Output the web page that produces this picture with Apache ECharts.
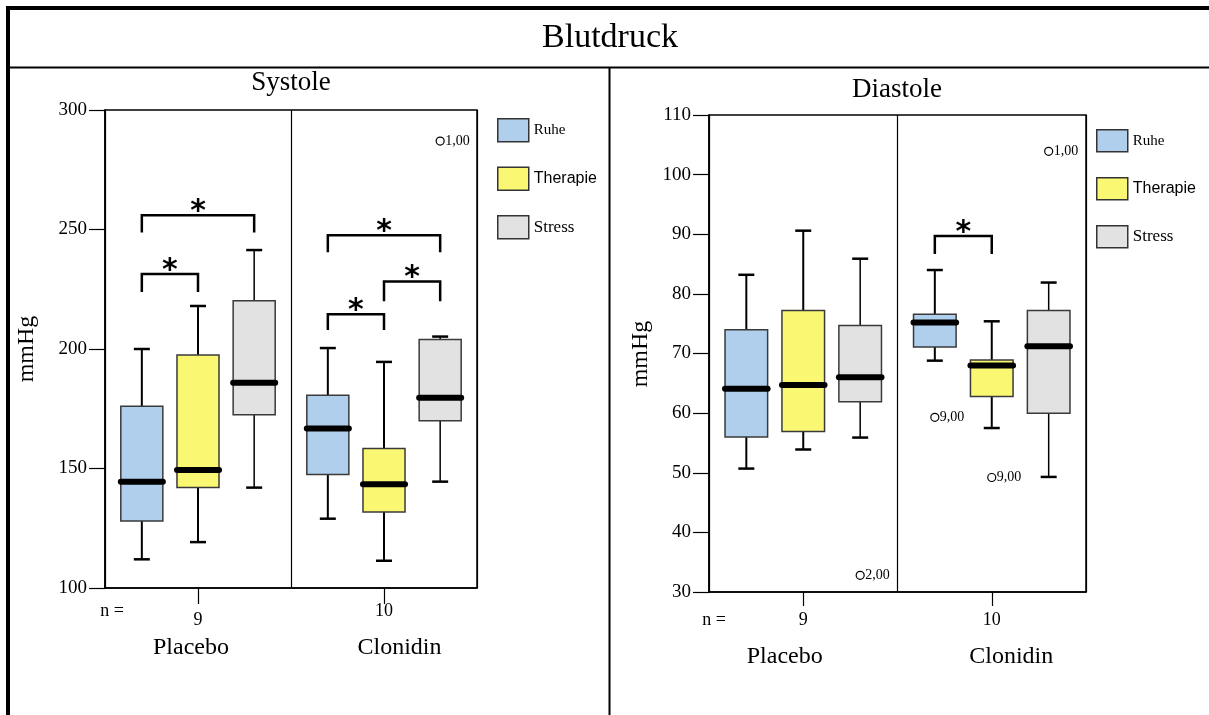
<!DOCTYPE html>
<html>
<head>
<meta charset="utf-8">
<title>Blutdruck</title>
<script src="https://cdn.jsdelivr.net/npm/echarts@6/dist/echarts.min.js"></script>
<style>
  html, body { margin: 0; padding: 0; background: #ffffff; }
  #chart { width: 1209px; height: 715px; }
</style>
</head>
<body>
<div id="chart"></div>
<script>
// ---- data ---------------------------------------------------------------
const groups = ['Placebo', 'Clonidin'];
const groupN = ['9', '10'];
const conditions = ['Ruhe', 'Therapie', 'Stress'];

// axis ranges: [min, max, interval]
const systoleRange = [100, 300, 50];
const diastoleRange = [30, 110, 10];

// box summaries per group: [lower whisker, Q1, median, Q3, upper whisker]
const systoleRuhe     = [[112, 128, 144.5, 176, 200],   [129, 147.5, 166.7, 180.6, 200.4]];
const systoleTherapie = [[119.2, 142, 149.4, 197.5, 218], [111.4, 131.8, 143.4, 158.4, 194.6]];
const systoleStress   = [[142, 172.5, 185.9, 220.2, 241.4], [144.5, 170, 179.6, 204, 205.2]];

const diastoleRuhe     = [[50.7, 56, 64.1, 74, 83.2],   [68.8, 71.1, 75.2, 76.6, 84]];
const diastoleTherapie = [[53.9, 56.9, 64.7, 77.2, 90.6], [57.5, 62.8, 68, 68.9, 75.4]];
const diastoleStress   = [[55.9, 61.9, 66, 74.7, 85.9], [49.3, 60, 71.2, 77.2, 81.9]];

// outliers: [group, condition, value, case label]
const systoleOutliers = [[1, 2, 287, '1,00']];
const diastoleOutliers = [
  [0, 2, 32.8, '2,00'],
  [1, 0, 59.3, '9,00'],
  [1, 1, 49.2, '9,00'],
  [1, 2, 103.9, '1,00']
];

// significance brackets: [group, from condition, to condition, bar value, leg end value]
const systoleBrackets = [
  [0, 0, 1, 231.4, 223.8],
  [0, 0, 2, 256, 248.7],
  [1, 0, 1, 214.5, 208],
  [1, 1, 2, 228.2, 220],
  [1, 0, 2, 247.6, 240.5]
];
const diastoleBrackets = [
  [1, 0, 1, 89.7, 86.7]
];

// ---- styling ------------------------------------------------------------
const boxFill = ['#AFCFED', '#FAF873', '#E2E2E2'];
const SERIF = '"Liberation Serif", "Times New Roman", serif';
const SANS = '"Liberation Sans", Arial, sans-serif';
const BOX_STEP = 0.302;   // distance between neighbouring boxes, as share of band
const BOX_WIDTH = 0.226;  // box width, as share of band

function boxX(api, g, cond) {
  const band = api.size([1, 0])[0];
  return api.coord([g, 0])[0] + (cond - 1) * band * BOX_STEP;
}

function boxRenderer(cond) {
  return function (params, api) {
    const g = api.value(0);
    const band = api.size([1, 0])[0];
    const cx = boxX(api, g, cond);
    const w = band * BOX_WIDTH;
    const y = [1, 2, 3, 4, 5].map(function (d) { return api.coord([g, api.value(d)])[1]; });
    const whiskerW = cond === 2 ? 1.5 : 2;
    const capHalf = 8;
    return {
      type: 'group',
      children: [
        { type: 'line', shape: { x1: cx, y1: y[3], x2: cx, y2: y[4] }, style: { stroke: '#000', lineWidth: whiskerW } },
        { type: 'line', shape: { x1: cx, y1: y[1], x2: cx, y2: y[0] }, style: { stroke: '#000', lineWidth: whiskerW } },
        { type: 'line', shape: { x1: cx - capHalf, y1: y[4], x2: cx + capHalf, y2: y[4] }, style: { stroke: '#000', lineWidth: 2.5 } },
        { type: 'line', shape: { x1: cx - capHalf, y1: y[0], x2: cx + capHalf, y2: y[0] }, style: { stroke: '#000', lineWidth: 2.5 } },
        { type: 'rect', shape: { x: cx - w / 2, y: y[3], width: w, height: y[1] - y[3] },
          style: { fill: boxFill[cond], stroke: '#3a3a3a', lineWidth: 1.5 } },
        { type: 'line', shape: { x1: cx - w / 2, y1: y[2], x2: cx + w / 2, y2: y[2] },
          style: { stroke: '#000', lineWidth: 6, lineCap: 'round' } }
      ]
    };
  };
}

function outlierRenderer(params, api) {
  const g = api.value(0);
  const cx = boxX(api, g, api.value(1));
  const cy = api.coord([g, api.value(2)])[1];
  return {
    type: 'group',
    children: [
      { type: 'circle', shape: { cx: cx, cy: cy, r: 4 }, style: { fill: 'none', stroke: '#000', lineWidth: 1.2 } },
      { type: 'text', x: cx + 5, y: cy,
        style: { text: api.value(3), fill: '#000', font: '14px ' + SERIF, align: 'left', verticalAlign: 'middle' } }
    ]
  };
}

function bracketRenderer(params, api) {
  const g = api.value(0);
  const x1 = boxX(api, g, api.value(1));
  const x2 = boxX(api, g, api.value(2));
  const yTop = api.coord([g, api.value(3)])[1];
  const yLeg = api.coord([g, api.value(4)])[1];
  return {
    type: 'group',
    children: [
      { type: 'polyline', shape: { points: [[x1, yLeg], [x1, yTop], [x2, yTop], [x2, yLeg]] },
        style: { fill: 'none', stroke: '#000', lineWidth: 2.5 } },
      { type: 'text', x: (x1 + x2) / 2, y: yTop + 12,
        style: { text: '*', fill: '#000', font: 'bold 30px "DejaVu Sans", sans-serif', align: 'center', verticalAlign: 'bottom' } }
    ]
  };
}

function boxSeries(name, cond, gridIdx, rows) {
  return {
    type: 'custom', name: name,
    xAxisIndex: gridIdx, yAxisIndex: gridIdx,
    itemStyle: { color: boxFill[cond] },
    renderItem: boxRenderer(cond),
    encode: { x: 0, y: [1, 2, 3, 4, 5] },
    data: rows.map(function (r, g) { return [g].concat(r); }),
    z: 3
  };
}

function extraSeries(gridIdx, renderer, rows, yDims) {
  return {
    type: 'custom', name: 'extra' + gridIdx + yDims.length,
    xAxisIndex: gridIdx, yAxisIndex: gridIdx,
    renderItem: renderer,
    encode: { x: 0, y: yDims },
    data: rows,
    z: 4
  };
}

function valueAxis(gridIdx, range, tickLen, margin) {
  return {
    gridIndex: gridIdx, type: 'value',
    min: range[0], max: range[1], interval: range[2],
    axisLine: { show: true, lineStyle: { color: '#000', width: 1.5 } },
    axisTick: { show: true, length: tickLen, lineStyle: { color: '#000', width: 1.2 } },
    axisLabel: { margin: margin, color: '#000', fontFamily: SERIF, fontSize: 19 },
    splitLine: { show: false }
  };
}

function categoryAxis(gridIdx, tickLen, margin, rich, styleKeys) {
  return {
    gridIndex: gridIdx, type: 'category', data: groups,
    axisLine: { show: true, lineStyle: { color: '#000', width: 1.5 } },
    axisTick: { show: true, alignWithLabel: true, length: tickLen, lineStyle: { color: '#000', width: 1.2 } },
    splitLine: { show: true, lineStyle: { color: '#000', width: 1.2 } },
    axisLabel: {
      interval: 0, margin: margin, color: '#000',
      formatter: function (v, i) {
        return '{' + styleKeys[i][0] + '|' + groupN[i] + '}\n{' + styleKeys[i][1] + '|' + v + '}';
      },
      rich: rich
    }
  };
}

const legendRich = {
  Ruhe: { fontFamily: SERIF, fontSize: 15, color: '#000' },
  Therapie: { fontFamily: SANS, fontSize: 16, color: '#000' },
  Stress: { fontFamily: SERIF, fontSize: 17, color: '#000' }
};
const legendData = conditions.map(function (c, i) {
  return { name: c, icon: 'rect', itemStyle: { color: boxFill[i], borderColor: '#333', borderWidth: 1.5 } };
});

function legend(left, top, h, gap) {
  return {
    orient: 'vertical', left: left, top: top, padding: 0,
    itemWidth: 31, itemHeight: h, itemGap: gap,
    selectedMode: false,
    data: legendData,
    formatter: function (n) { return '{' + n + '|' + n + '}'; },
    textStyle: { rich: legendRich }
  };
}

const leftRich = {
  n0: { fontFamily: SERIF, fontSize: 18, lineHeight: 38, color: '#000' },
  n1: { fontFamily: SERIF, fontSize: 18, lineHeight: 20, color: '#000' },
  g0: { fontFamily: SERIF, fontSize: 24, lineHeight: 18, color: '#000', padding: [0, 14, 0, 0] },
  g1: { fontFamily: SERIF, fontSize: 24, lineHeight: 54, color: '#000', padding: [0, 0, 0, 31] }
};
const rightRich = {
  n0: { fontFamily: SERIF, fontSize: 18, lineHeight: 20, color: '#000' },
  n1: { fontFamily: SERIF, fontSize: 18, lineHeight: 20, color: '#000' },
  g0: { fontFamily: SERIF, fontSize: 24, lineHeight: 54, color: '#000', padding: [0, 37, 0, 0] },
  g1: { fontFamily: SERIF, fontSize: 24, lineHeight: 54, color: '#000', padding: [0, 0, 0, 39] }
};
const keys = [['n0', 'g0'], ['n1', 'g1']];

const chart = echarts.init(document.getElementById('chart'), null, { renderer: 'canvas' });

chart.setOption({
  animation: false,
  backgroundColor: '#ffffff',
  grid: [
    { left: 105, top: 110, width: 372, height: 478, show: true, borderColor: '#000', borderWidth: 1.5,
      containLabel: false, outerBoundsMode: 'none' },
    { left: 709, top: 115, width: 377, height: 477, show: true, borderColor: '#000', borderWidth: 1.5,
      containLabel: false, outerBoundsMode: 'none' }
  ],
  xAxis: [
    categoryAxis(0, 16, 13, leftRich, keys),
    categoryAxis(1, 14, 18, rightRich, keys)
  ],
  yAxis: [
    valueAxis(0, systoleRange, 16, 18),
    valueAxis(1, diastoleRange, 16, 18)
  ],
  legend: [legend(497, 118, 23, 24), legend(1096, 129, 22, 24.5)],
  series: [
    boxSeries('Ruhe', 0, 0, systoleRuhe),
    boxSeries('Therapie', 1, 0, systoleTherapie),
    boxSeries('Stress', 2, 0, systoleStress),
    boxSeries('Ruhe', 0, 1, diastoleRuhe),
    boxSeries('Therapie', 1, 1, diastoleTherapie),
    boxSeries('Stress', 2, 1, diastoleStress),
    extraSeries(0, outlierRenderer, systoleOutliers, [2]),
    extraSeries(1, outlierRenderer, diastoleOutliers, [2]),
    extraSeries(0, bracketRenderer, systoleBrackets, [3, 4]),
    extraSeries(1, bracketRenderer, diastoleBrackets, [3, 4])
  ],
  graphic: [
    // outer frame and panel dividers
    { type: 'rect', shape: { x: 6, y: 6, width: 1203, height: 4 }, style: { fill: '#000' } },
    { type: 'rect', shape: { x: 6, y: 6, width: 4, height: 709 }, style: { fill: '#000' } },
    { type: 'line', shape: { x1: 8, y1: 67.5, x2: 1209, y2: 67.5 }, style: { stroke: '#000', lineWidth: 2 } },
    { type: 'line', shape: { x1: 609.5, y1: 67, x2: 609.5, y2: 715 }, style: { stroke: '#000', lineWidth: 2 } },
    // titles
    { type: 'text', x: 610, y: 38, style: { text: 'Blutdruck', font: '34px ' + SERIF, fill: '#000', align: 'center', verticalAlign: 'middle' } },
    { type: 'text', x: 291, y: 83, style: { text: 'Systole', font: '27px ' + SERIF, fill: '#000', align: 'center', verticalAlign: 'middle' } },
    { type: 'text', x: 897, y: 90, style: { text: 'Diastole', font: '27px ' + SERIF, fill: '#000', align: 'center', verticalAlign: 'middle' } },
    // axis titles
    { type: 'text', x: 27, y: 349, rotation: Math.PI / 2,
      style: { text: 'mmHg', font: '24px ' + SERIF, fill: '#000', align: 'center', verticalAlign: 'middle' } },
    { type: 'text', x: 641, y: 354, rotation: Math.PI / 2,
      style: { text: 'mmHg', font: '24px ' + SERIF, fill: '#000', align: 'center', verticalAlign: 'middle' } },
    // sample size captions
    { type: 'text', x: 112, y: 611, style: { text: 'n =', font: '18px ' + SERIF, fill: '#000', align: 'center', verticalAlign: 'middle' } },
    { type: 'text', x: 714, y: 620, style: { text: 'n =', font: '18px ' + SERIF, fill: '#000', align: 'center', verticalAlign: 'middle' } }
  ]
});
</script>
</body>
</html>
